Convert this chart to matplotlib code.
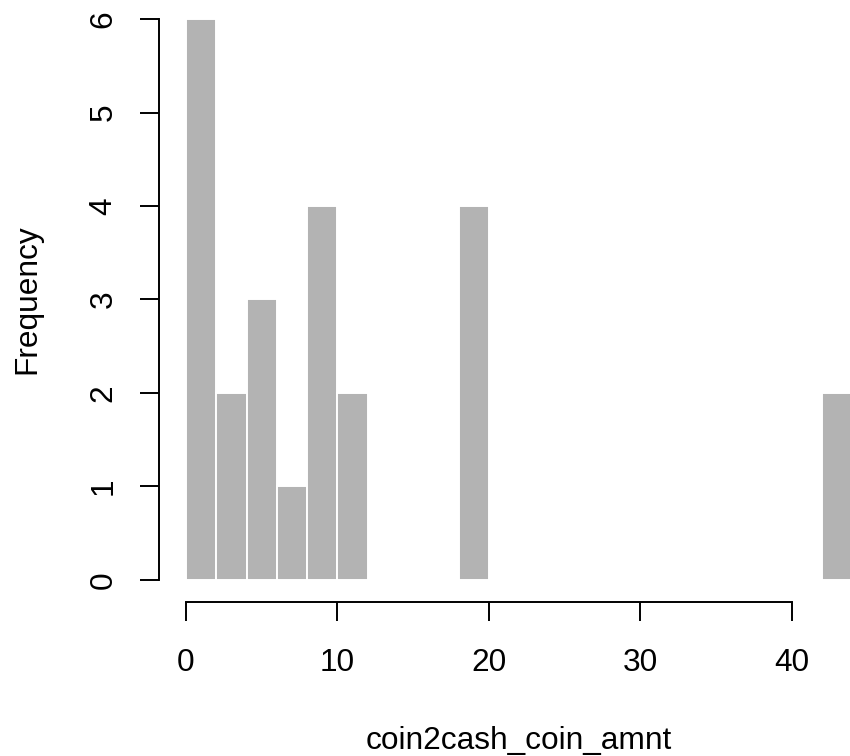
import matplotlib.pyplot as plt
import numpy as np

plt.rcParams['font.family'] = ['Liberation Sans', 'DejaVu Sans']

# histogram of coin2cash_coin_amnt, bins of width 2
bin_left = [0, 2, 4, 6, 8, 10, 18, 42]
counts = [6, 2, 3, 1, 4, 2, 4, 2]
bin_width = 2
x_ticks = [0, 10, 20, 30, 40]
y_ticks = [0, 1, 2, 3, 4, 5, 6]

fs = 22.8

fig = plt.figure(figsize=(8.5, 7.56), dpi=100)
ax = fig.add_axes([0.1874, 0.2032, 0.8467, 0.8013])

ax.bar(bin_left, counts, width=bin_width, align='edge',
       color='#b3b3b3', edgecolor='white', linewidth=1.4)

# R-style limits: data range padded by 4%
ax.set_xlim(-1.76, 45.76)
ax.set_ylim(-0.24, 6.24)

for s in ['top', 'right']:
    ax.spines[s].set_visible(False)
ax.spines['left'].set_bounds(0, 6)
ax.spines['bottom'].set_bounds(0, 40)
ax.spines['left'].set_linewidth(1.4)
ax.spines['bottom'].set_linewidth(1.4)

ax.set_xticks(x_ticks, labels=[str(v) for v in x_ticks], va='baseline')
ax.set_yticks(y_ticks, labels=[str(v) for v in y_ticks], rotation=90,
              rotation_mode='anchor', ha='center', va='baseline')
ax.tick_params(axis='both', direction='out', length=14, width=1.4,
               labelsize=fs)
ax.tick_params(axis='x', pad=35.6)
ax.tick_params(axis='y', pad=20.4)

ax.set_xlabel('coin2cash_coin_amnt', fontsize=fs, va='baseline')
ax.xaxis.set_label_coords(0.5, -0.242)
ax.set_ylabel('Frequency', fontsize=fs, rotation=90,
              rotation_mode='anchor', ha='center', va='baseline')
ax.yaxis.set_label_coords(-0.1727, 0.5)

fig.savefig('out.png', dpi=100)
